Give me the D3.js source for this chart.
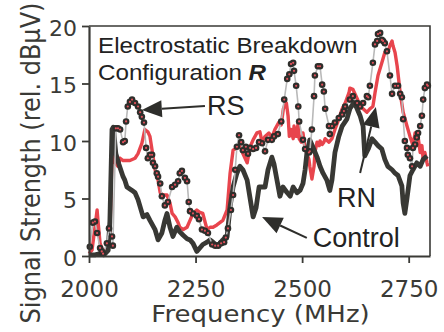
<!DOCTYPE html>
<html><head><meta charset="utf-8">
<script src="https://cdn.jsdelivr.net/npm/d3@7"></script>
<style>
html,body{margin:0;padding:0;background:#fff;}
svg{display:block;}
</style></head>
<body>
<svg id="chart" width="444" height="332"></svg>
<script>
// ---- data ----
const xTicks = [2000, 2250, 2500, 2750];
const yTicks = [0, 5, 10, 15, 20];

const controlFreq = [2000,2014,2026,2035,2045,2049,2054,2057,2063,2070,2080,2084,2089,2101,2108,2115,2127,2136,2143,2155,2162,2171,2178,2183,2190,2197,2206,2213,2221,2230,2237,2244,2253,2260,2267,2277,2284,2291,2300,2307,2314,2324,2331,2338,2347,2354,2361,2371,2378,2385,2392,2399,2406,2413,2420,2429,2434,2441,2448,2455,2465,2472,2479,2488,2495,2502,2507,2511,2518,2525,2535,2542,2549,2558,2565,2570,2577,2586,2594,2605,2612,2622,2629,2636,2643,2647,2655,2664,2671,2678,2687,2694,2701,2711,2718,2725,2734,2737,2741,2746,2753,2760,2769,2777,2784,2793];
const controlVal = [0.1,0.1,0.2,0.1,0.5,3.0,11.0,11.2,8.9,8.0,6.9,6.6,6.0,5.7,5.5,4.9,3.4,3.6,3.1,2.3,1.4,2.0,3.1,3.7,2.5,1.7,2.5,2.1,1.8,1.5,1.4,1.1,0.4,0.7,1.0,1.2,1.4,1.2,0.9,1.1,1.4,1.7,4.3,6.0,7.2,7.8,7.5,6.6,5.0,3.4,4.2,6.0,6.0,6.0,7.5,8.6,8.0,6.6,5.2,6.0,5.5,5.2,6.0,5.5,5.7,6.3,7.5,8.9,10.1,9.5,8.6,7.8,7.2,6.6,5.7,6.6,9.0,10.4,11.3,11.9,12.8,13.4,12.8,12.2,11.3,8.7,9.3,10.2,9.9,9.6,9.3,8.4,7.8,7.5,7.2,7.0,6.1,4.6,3.7,5.0,7.0,7.5,8.1,7.8,8.4,8.7];

const rnFreq = [2000,2007,2014,2019,2021,2026,2033,2042,2049,2054,2059,2061,2068,2073,2080,2096,2108,2115,2124,2131,2138,2143,2148,2155,2162,2167,2174,2183,2190,2195,2202,2209,2213,2221,2230,2237,2244,2253,2260,2267,2277,2284,2291,2300,2307,2314,2324,2331,2338,2347,2354,2361,2371,2378,2385,2394,2401,2406,2413,2422,2429,2436,2445,2451,2456,2458,2463,2467,2470,2474,2479,2481,2486,2491,2493,2498,2502,2507,2516,2518,2523,2528,2530,2535,2540,2542,2547,2551,2554,2563,2570,2577,2586,2594,2601,2610,2612,2619,2629,2636,2643,2652,2659,2666,2671,2678,2687,2694,2701,2706,2711,2713,2718,2723,2730,2737,2746,2753,2760,2765,2769,2772,2777,2781,2784,2788,2793,2795];
const rnVal = [0.2,0.5,2.5,4.0,3.1,1.1,0.4,0.5,1.7,9.0,10.0,8.1,7.8,8.5,8.3,8.3,8.5,8.9,9.8,11.0,10.8,10.4,9.2,7.5,6.6,5.5,5.3,5.3,4.6,3.7,3.4,2.9,2.5,2.3,2.5,3.1,3.7,4.0,3.8,3.7,2.3,2.5,2.5,2.7,2.9,3.1,4.0,7.2,9.2,9.4,9.8,8.9,8.1,9.5,10.1,10.7,10.8,9.9,10.4,10.7,10.3,11.0,11.6,11.4,12.8,13.0,13.3,12.2,10.4,11.0,10.2,11.3,10.4,11.6,10.2,9.9,10.7,9.3,8.4,7.8,6.7,7.8,9.0,9.9,9.6,10.0,9.7,9.9,10.2,9.9,10.2,11.0,11.9,12.8,13.3,14.2,14.6,14.5,13.7,13.0,12.8,12.5,12.8,13.0,14.2,15.7,16.8,17.7,17.7,18.3,18.7,18.3,17.7,16.5,14.2,12.5,11.3,10.4,9.6,10.7,9.6,10.4,9.0,9.6,8.4,9.0,8.1,7.8];

const rsFreq = [2002,2009,2014,2019,2026,2030,2033,2042,2047,2054,2056,2063,2068,2073,2080,2084,2087,2091,2096,2101,2108,2115,2120,2124,2129,2134,2138,2143,2148,2150,2155,2159,2162,2167,2171,2178,2185,2195,2202,2209,2213,2218,2225,2230,2234,2237,2244,2253,2258,2265,2272,2279,2289,2296,2303,2310,2317,2321,2326,2333,2338,2343,2347,2352,2357,2361,2368,2373,2378,2385,2392,2399,2406,2413,2420,2429,2434,2443,2451,2458,2465,2470,2474,2479,2481,2486,2491,2493,2502,2507,2516,2518,2523,2528,2530,2537,2542,2547,2551,2554,2563,2565,2570,2577,2586,2594,2598,2601,2612,2619,2629,2636,2643,2652,2655,2659,2666,2671,2676,2678,2683,2687,2690,2694,2699,2706,2711,2718,2725,2730,2734,2737,2741,2746,2748,2753,2758,2760,2765,2769,2772,2777,2781,2784,2788,2793,2795];
const rsVal = [0.8,2.9,3.0,2.0,0.7,0.4,0.2,1.1,2.4,1.7,0.9,11.1,11.1,11.0,9.9,10.0,11.7,13.0,13.4,13.6,13.3,13.0,12.5,12.1,11.6,9.4,8.5,8.8,8.8,8.1,7.8,7.2,6.9,6.3,5.2,4.4,4.7,6.0,6.2,6.5,7.2,7.4,6.8,6.5,4.7,3.9,3.7,3.5,3.2,2.3,2.2,2.0,1.0,0.9,0.9,1.1,1.2,1.6,2.4,4.0,5.3,7.5,9.5,10.5,9.9,9.2,9.5,8.9,9.4,9.3,9.4,9.9,9.8,9.1,10.1,10.1,10.4,10.6,11.7,13.6,15.4,15.8,16.7,16.8,16.1,14.8,13.0,11.7,10.1,9.3,9.0,9.1,11.0,13.9,15.7,16.5,16.5,14.9,14.3,12.8,11.3,10.6,11.3,11.6,12.0,12.3,12.6,13.0,13.6,13.9,13.3,13.0,13.3,13.9,13.8,14.8,16.8,18.4,18.7,19.3,19.4,18.8,18.7,18.5,17.8,15.7,14.1,14.8,14.8,14.1,13.8,11.9,10.0,9.4,8.8,8.5,7.8,9.4,9.7,10.3,10.7,11.3,12.2,13.6,14.6,14.9,14.8];

// annotations in data units: [label, textFreq, textVal, fromFreq, fromVal, tipFreq, tipVal]
const annotations = [
  ["RS", 2277, 12.26, 2272, 13.04, 2124, 12.70],
  ["RN", 2582, 4.26, 2636, 7.22, 2673, 12.96],
  ["Control", 2525, 0.78, 2511, 1.57, 2406, 3.39]
];

// ---- layout ----
const ink = "#3a3a36";
const svg = d3.select("#chart");
const x = d3.scaleLinear().domain([2000, 2800]).range([89, 430]);
const y = d3.scaleLinear().domain([0, 20]).range([256, 26]);

const zip = (a, b) => a.map((v, i) => [v, b[i]]);
const control = zip(controlFreq, controlVal);
const rn = zip(rnFreq, rnVal);
const rs = zip(rsFreq, rsVal);
const line = d3.line().x(d => x(d[0])).y(d => y(d[1]));

// frame
svg.append("path")
  .attr("d", `M${x(2000)},${y(20)}H${x(2800)}V${y(0)}`)
  .attr("fill", "none").attr("stroke", ink).attr("stroke-width", 1.6);

// series
svg.append("path").datum(rn).attr("d", line)
  .attr("fill", "none").attr("stroke", "#e8454d").attr("stroke-width", 3.4)
  .attr("stroke-linejoin", "round");
svg.append("path").datum(control).attr("d", line)
  .attr("fill", "none").attr("stroke", "#383834").attr("stroke-width", 4.8)
  .attr("stroke-linejoin", "round");
svg.append("path").datum(rs).attr("d", line)
  .attr("fill", "none").attr("stroke", "#b9b9b9").attr("stroke-width", 1.6);
const dots = svg.append("g");
dots.selectAll("circle.o").data(rs).join("circle").attr("class", "o")
  .attr("cx", d => x(d[0])).attr("cy", d => y(d[1])).attr("r", 3.3)
  .attr("fill", "#2e2e2b");
dots.selectAll("circle.i").data(rs).join("circle").attr("class", "i")
  .attr("cx", d => x(d[0])).attr("cy", d => y(d[1])).attr("r", 1.1)
  .attr("fill", "#e0505a");

// axes
const gx = svg.append("g").attr("transform", `translate(0,${y(0)})`)
  .call(d3.axisBottom(x).tickValues(xTicks).tickSize(7).tickSizeOuter(0).tickFormat(d3.format("d")));
gx.selectAll("text").attr("dy", null).attr("y", 41)
  .attr("font-family", "DejaVu Sans, Verdana, sans-serif").attr("font-size", 23).attr("fill", ink);
const gy = svg.append("g").attr("transform", `translate(${x(2000)},0)`)
  .call(d3.axisLeft(y).tickValues(yTicks).tickSize(7).tickPadding(5).tickSizeOuter(0));
gy.selectAll("text").attr("dy", "0.42em")
  .attr("font-family", "DejaVu Sans, Verdana, sans-serif").attr("font-size", 22).attr("fill", ink);
svg.selectAll(".domain").attr("stroke", ink).attr("stroke-width", 2.2);
svg.selectAll(".tick line").attr("stroke", ink).attr("stroke-width", 1.8);

// axis titles
svg.append("text")
  .attr("transform", `translate(${(x(2000) + x(2800)) / 2 + 1},321.5) scale(1.13,1)`)
  .attr("text-anchor", "middle")
  .attr("font-family", "DejaVu Sans, Verdana, sans-serif").attr("font-size", 23).attr("fill", ink)
  .text("Frequency (MHz)");
svg.append("text")
  .attr("transform", `translate(40,163) rotate(-90) scale(1,1.1)`)
  .attr("text-anchor", "middle")
  .attr("font-family", "DejaVu Sans, Verdana, sans-serif").attr("font-size", 24).attr("fill", ink)
  .text("Signal Strength (rel. dBμV)");

// in-plot title
const tf = "Liberation Sans, Arial, Helvetica, sans-serif";
svg.append("text").attr("transform", "translate(98,53) scale(1.1,1)")
  .attr("font-family", tf).attr("font-size", 22).attr("fill", "#222")
  .text("Electrostatic Breakdown");
const t2 = svg.append("text").attr("transform", "translate(98,80) scale(1.1,1)")
  .attr("font-family", tf).attr("font-size", 22).attr("fill", "#222");
t2.append("tspan").text("Configuration ");
t2.append("tspan").attr("font-weight", "bold").attr("font-style", "italic").text("R");

// annotations with arrows
annotations.forEach(([lab, tx, ty, fx, fy, px, py]) => {
  const x0 = x(fx), y0 = y(fy), x1 = x(px), y1 = y(py);
  const dx = x1 - x0, dy = y1 - y0, len = Math.hypot(dx, dy);
  const ux = dx / len, uy = dy / len;
  const L = 20, Wd = 8.5;
  const bx = x1 - ux * L, by = y1 - uy * L;
  svg.append("line").attr("x1", x0).attr("y1", y0).attr("x2", bx).attr("y2", by)
    .attr("stroke", "#2e2e2b").attr("stroke-width", 2);
  svg.append("path")
    .attr("d", `M${x1},${y1}L${bx - uy * Wd},${by + ux * Wd}L${bx + uy * Wd},${by - ux * Wd}Z`)
    .attr("fill", "#2e2e2b");
  svg.append("text").attr("x", x(tx)).attr("y", y(ty))
    .attr("font-family", tf).attr("font-size", 27).attr("fill", "#222")
    .text(lab);
});
</script>
</body></html>
